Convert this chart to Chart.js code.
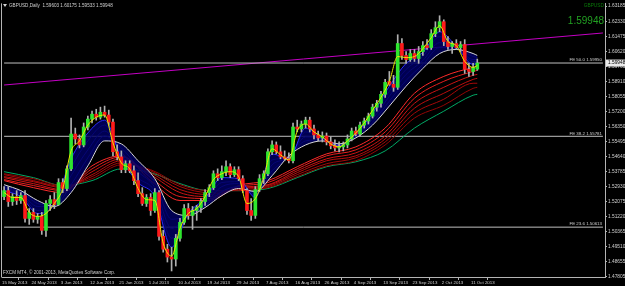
<!DOCTYPE html>
<html>
<head>
<meta charset="utf-8">
<title>GBPUSD Daily</title>
<script src="https://cdn.jsdelivr.net/npm/chart.js@4.4.1/dist/chart.umd.min.js"></script>
<style>
  html, body { margin: 0; padding: 0; background: #000; }
  canvas { display: block; }
</style>
</head>
<body>
<canvas id="chart" width="625" height="286"></canvas>
<script>
// daily candles, 15 May 2013 .. 14 Oct 2013 : [open, high, low, close]
const candles = [
  [1.5235, 1.5292, 1.5218, 1.5269], [1.5269, 1.5292, 1.5179, 1.5207], [1.5207, 1.5252, 1.5185, 1.5235],
  [1.5235, 1.5269, 1.5190, 1.5213], [1.5213, 1.5258, 1.5196, 1.5241], [1.5241, 1.5269, 1.5089, 1.5111],
  [1.5111, 1.5167, 1.5077, 1.5145], [1.5145, 1.5167, 1.5089, 1.5106], [1.5106, 1.5139, 1.5083, 1.5122],
  [1.5122, 1.5145, 1.5020, 1.5043], [1.5043, 1.5213, 1.5009, 1.5196], [1.5196, 1.5241, 1.5156, 1.5218],
  [1.5218, 1.5258, 1.5167, 1.5190], [1.5190, 1.5337, 1.5185, 1.5315], [1.5315, 1.5337, 1.5258, 1.5281],
  [1.5281, 1.5410, 1.5269, 1.5393], [1.5393, 1.5682, 1.5382, 1.5591], [1.5591, 1.5625, 1.5535, 1.5563],
  [1.5563, 1.5586, 1.5512, 1.5529], [1.5529, 1.5654, 1.5518, 1.5631], [1.5631, 1.5693, 1.5614, 1.5676],
  [1.5676, 1.5721, 1.5654, 1.5704], [1.5704, 1.5732, 1.5670, 1.5687], [1.5687, 1.5744, 1.5676, 1.5715],
  [1.5715, 1.5750, 1.5687, 1.5699], [1.5699, 1.5727, 1.5642, 1.5659], [1.5659, 1.5676, 1.5467, 1.5490],
  [1.5490, 1.5529, 1.5444, 1.5461], [1.5461, 1.5495, 1.5371, 1.5388], [1.5388, 1.5439, 1.5371, 1.5422],
  [1.5422, 1.5439, 1.5371, 1.5382], [1.5382, 1.5410, 1.5303, 1.5326], [1.5326, 1.5371, 1.5235, 1.5252],
  [1.5252, 1.5286, 1.5185, 1.5196], [1.5196, 1.5247, 1.5179, 1.5230], [1.5230, 1.5252, 1.5128, 1.5156],
  [1.5156, 1.5281, 1.5145, 1.5258], [1.5258, 1.5269, 1.4987, 1.5009], [1.5009, 1.5043, 1.4919, 1.4936],
  [1.4936, 1.4964, 1.4863, 1.4891], [1.4891, 1.4947, 1.4812, 1.4880], [1.4880, 1.5020, 1.4840, 1.4998],
  [1.4998, 1.5111, 1.4981, 1.5089], [1.5089, 1.5190, 1.5077, 1.5167], [1.5167, 1.5196, 1.5106, 1.5128],
  [1.5128, 1.5179, 1.5049, 1.5156], [1.5156, 1.5185, 1.5100, 1.5173], [1.5173, 1.5224, 1.5145, 1.5207],
  [1.5207, 1.5275, 1.5185, 1.5258], [1.5258, 1.5303, 1.5235, 1.5286], [1.5286, 1.5382, 1.5275, 1.5365],
  [1.5365, 1.5393, 1.5326, 1.5343], [1.5343, 1.5410, 1.5332, 1.5377], [1.5377, 1.5439, 1.5354, 1.5405],
  [1.5405, 1.5422, 1.5343, 1.5360], [1.5360, 1.5405, 1.5349, 1.5388], [1.5388, 1.5405, 1.5326, 1.5337],
  [1.5337, 1.5354, 1.5258, 1.5269], [1.5269, 1.5281, 1.5134, 1.5156], [1.5156, 1.5224, 1.5100, 1.5128],
  [1.5128, 1.5292, 1.5111, 1.5275], [1.5275, 1.5360, 1.5264, 1.5337], [1.5337, 1.5382, 1.5309, 1.5365],
  [1.5365, 1.5507, 1.5354, 1.5490], [1.5490, 1.5552, 1.5473, 1.5529], [1.5529, 1.5546, 1.5478, 1.5490],
  [1.5490, 1.5524, 1.5450, 1.5461], [1.5461, 1.5495, 1.5439, 1.5450], [1.5450, 1.5484, 1.5427, 1.5439],
  [1.5439, 1.5654, 1.5427, 1.5631], [1.5631, 1.5670, 1.5603, 1.5620], [1.5620, 1.5665, 1.5603, 1.5648],
  [1.5648, 1.5687, 1.5625, 1.5670], [1.5670, 1.5687, 1.5603, 1.5620], [1.5620, 1.5642, 1.5563, 1.5586],
  [1.5586, 1.5608, 1.5552, 1.5569], [1.5569, 1.5603, 1.5546, 1.5580], [1.5580, 1.5597, 1.5529, 1.5546],
  [1.5546, 1.5575, 1.5507, 1.5524], [1.5524, 1.5558, 1.5495, 1.5512], [1.5512, 1.5546, 1.5490, 1.5518],
  [1.5518, 1.5546, 1.5495, 1.5529], [1.5529, 1.5586, 1.5512, 1.5563], [1.5563, 1.5625, 1.5552, 1.5608],
  [1.5608, 1.5631, 1.5580, 1.5591], [1.5591, 1.5659, 1.5580, 1.5642], [1.5642, 1.5682, 1.5625, 1.5665],
  [1.5665, 1.5710, 1.5648, 1.5693], [1.5693, 1.5761, 1.5682, 1.5744], [1.5744, 1.5783, 1.5721, 1.5766],
  [1.5766, 1.5834, 1.5744, 1.5817], [1.5817, 1.5902, 1.5800, 1.5885], [1.5891, 1.5947, 1.5868, 1.5874],
  [1.5874, 1.5925, 1.5834, 1.5857], [1.5857, 1.6156, 1.5845, 1.6106], [1.6106, 1.6134, 1.6015, 1.6038],
  [1.6038, 1.6060, 1.5993, 1.6015], [1.6015, 1.6072, 1.6004, 1.6049], [1.6049, 1.6072, 1.6004, 1.6021],
  [1.6021, 1.6089, 1.5993, 1.6060], [1.6060, 1.6117, 1.6038, 1.6094], [1.6094, 1.6128, 1.6072, 1.6083],
  [1.6083, 1.6185, 1.6072, 1.6162], [1.6162, 1.6230, 1.6145, 1.6196], [1.6196, 1.6264, 1.6173, 1.6230],
  [1.6230, 1.6241, 1.6094, 1.6117], [1.6117, 1.6145, 1.6072, 1.6089], [1.6089, 1.6117, 1.6049, 1.6106],
  [1.6106, 1.6128, 1.6072, 1.6083], [1.6083, 1.6117, 1.6060, 1.6100], [1.6100, 1.6128, 1.5936, 1.5959],
  [1.5959, 1.5993, 1.5919, 1.5947], [1.5947, 1.5993, 1.5925, 1.5970], [1.59603, 1.60175, 1.59533, 1.59948]
];

// one date label every 7 bars
const dateTicks = ['15 May 2013', '24 May 2013', '3 Jun 2013', '12 Jun 2013', '21 Jun 2013', '1 Jul 2013',
  '10 Jul 2013', '19 Jul 2013', '29 Jul 2013', '7 Aug 2013', '16 Aug 2013', '26 Aug 2013', '4 Sep 2013',
  '13 Sep 2013', '23 Sep 2013', '2 Oct 2013', '11 Oct 2013'];

const priceTicks = [1.63185, 1.62330, 1.61475, 1.60620, 1.59765, 1.58910, 1.58055, 1.57200, 1.56350, 1.55495,
  1.54640, 1.53785, 1.52930, 1.52075, 1.51220, 1.50365, 1.49510, 1.48655, 1.47805];

// fast average, read every 2nd bar (+ last bar)
const yellowLine = [1.5258, 1.5230, 1.5230, 1.5145, 1.5122, 1.5139, 1.5196, 1.5281, 1.5495, 1.5552, 1.5642,
  1.5687, 1.5699, 1.5541, 1.5427, 1.5393, 1.5281, 1.5218, 1.5213, 1.4970, 1.4897, 1.5054, 1.5139, 1.5167,
  1.5235, 1.5332, 1.5365, 1.5377, 1.5349, 1.5196, 1.5224, 1.5343, 1.5507, 1.5473, 1.5444, 1.5608, 1.5648,
  1.5603, 1.5575, 1.5535, 1.5518, 1.5552, 1.5597, 1.5654, 1.5727, 1.5800, 1.5891, 1.6032, 1.6026, 1.6032,
  1.6077, 1.6139, 1.6207, 1.6117, 1.6094, 1.6004, 1.5970, 1.5981];

// short group, read every 4th bar (+ last bar)
const blueLines = [
  [1.5269, 1.5235, 1.5139, 1.5190, 1.5450, 1.5597, 1.5670, 1.5450, 1.5315, 1.5235, 1.4947, 1.5139, 1.5224, 1.5343, 1.5337,
   1.5230, 1.5478, 1.5450, 1.5625, 1.5569, 1.5524, 1.5591, 1.5710, 1.5863, 1.5993, 1.6055, 1.6173, 1.6089, 1.5987, 1.5993],
  [1.5275, 1.5247, 1.5156, 1.5190, 1.5399, 1.5552, 1.5642, 1.5473, 1.5343, 1.5264, 1.4998, 1.5134, 1.5213, 1.5315, 1.5320,
   1.5241, 1.5444, 1.5456, 1.5603, 1.5563, 1.5524, 1.5586, 1.5693, 1.5834, 1.5959, 1.6032, 1.6145, 1.6083, 1.6004, 1.6004],
  [1.5286, 1.5252, 1.5179, 1.5185, 1.5354, 1.5501, 1.5608, 1.5490, 1.5377, 1.5286, 1.5054, 1.5134, 1.5196, 1.5292, 1.5309,
   1.5247, 1.5416, 1.5456, 1.5575, 1.5563, 1.5529, 1.5580, 1.5676, 1.5806, 1.5930, 1.6009, 1.6111, 1.6083, 1.6015, 1.6015],
  [1.5292, 1.5264, 1.5196, 1.5185, 1.5303, 1.5456, 1.5580, 1.5512, 1.5405, 1.5315, 1.5106, 1.5128, 1.5185, 1.5264, 1.5292,
   1.5258, 1.5382, 1.5461, 1.5552, 1.5558, 1.5529, 1.5575, 1.5659, 1.5778, 1.5896, 1.5987, 1.6083, 1.6077, 1.6032, 1.6026]
];
const whiteLine = [1.5303, 1.5269, 1.5213, 1.5179, 1.5258, 1.5410, 1.5552, 1.5535, 1.5439, 1.5337, 1.5156, 1.5128,
  1.5173, 1.5241, 1.5281, 1.5264, 1.5354, 1.5467, 1.5529, 1.5552, 1.5535, 1.5569, 1.5642, 1.5750, 1.5863, 1.5964,
  1.6049, 1.6072, 1.6049, 1.6038];

// long group, read every 7th bar (+ last bar)
const redLines = [
  [1.5326, 1.5286, 1.5258, 1.5410, 1.5467, 1.5326, 1.5213, 1.5213, 1.5298, 1.5326, 1.5405, 1.5478, 1.5518, 1.5625, 1.5823, 1.5919, 1.5970, 1.5976],
  [1.5332, 1.5298, 1.5269, 1.5393, 1.5461, 1.5343, 1.5235, 1.5224, 1.5292, 1.5315, 1.5393, 1.5467, 1.5501, 1.5603, 1.5795, 1.5891, 1.5947, 1.5953],
  [1.5343, 1.5309, 1.5275, 1.5377, 1.5450, 1.5360, 1.5258, 1.5235, 1.5286, 1.5303, 1.5382, 1.5450, 1.5484, 1.5580, 1.5766, 1.5857, 1.5925, 1.5930],
  [1.5349, 1.5320, 1.5286, 1.5360, 1.5439, 1.5371, 1.5275, 1.5247, 1.5281, 1.5298, 1.5371, 1.5439, 1.5467, 1.5563, 1.5738, 1.5823, 1.5902, 1.5908],
  [1.5360, 1.5326, 1.5292, 1.5349, 1.5427, 1.5382, 1.5292, 1.5258, 1.5275, 1.5292, 1.5360, 1.5422, 1.5456, 1.5546, 1.5710, 1.5789, 1.5880, 1.5880],
  [1.5365, 1.5337, 1.5298, 1.5337, 1.5416, 1.5388, 1.5303, 1.5269, 1.5269, 1.5286, 1.5349, 1.5410, 1.5439, 1.5529, 1.5682, 1.5755, 1.5851, 1.5857]
];
const greenLine = [1.5377, 1.5343, 1.5298, 1.5326, 1.5393, 1.5371, 1.5309, 1.5269, 1.5269, 1.5281, 1.5343, 1.5405,
  1.5433, 1.5495, 1.5625, 1.5721, 1.5812, 1.5817];

const fibNames = ['FE 50.0', 'FE 38.2', 'FE 23.6'];
const fibValues = [1.59950, 1.55781, 1.50613];
const trendLine = [1.5870, 1.6166];   // first and last slot of the chart

const BULL = '#2ee62e', BEAR = '#ff1a1a', FRAME = '#b4b4b4', TEXT = '#d0d0d0';
const FONT = '"Liberation Sans", Arial, sans-serif';

const BARS = candles.length;
const N = BARS + 30;   // empty shift on the right
const labels = Array.from({length: N}, (_, i) => (i % 7 === 0 && dateTicks[i / 7]) ? dateTicks[i / 7] : '');
const tickIdx = dateTicks.map((_, k) => k * 7);

function stepIdx(step) {
  const a = [];
  for (let i = 0; i < BARS; i += step) a.push(i);
  if (a[a.length - 1] !== BARS - 1) a.push(BARS - 1);
  return a;
}
function place(idx, vals) {
  const a = new Array(N).fill(null);
  idx.forEach((k, j) => { a[k] = vals[j]; });
  return a;
}
const idx2 = stepIdx(2), idx4 = stepIdx(4), idx7 = stepIdx(7);

function line(data, color, order, extra) {
  return Object.assign({
    type: 'line', data, borderColor: color, borderWidth: 1, pointRadius: 0,
    spanGaps: true, cubicInterpolationMode: 'monotone', fill: false, order
  }, extra || {});
}

const datasets = [];
// level lines and trend line
fibValues.forEach(v => datasets.push(line(place([0, N - 1], [v, v]), '#c0c0c0', 9, {cubicInterpolationMode: 'default'})));
datasets.push(line(place([0, N - 1], trendLine), '#c400c4', 9, {cubicInterpolationMode: 'default'}));
// long group
const redColors = ['#ff2a2a', '#e61e1e', '#cc1414', '#b80e0e', '#a50808', '#930505'];
redLines.forEach((r, k) => datasets.push(line(place(idx7, r), redColors[k], 7)));
datasets.push(line(place(idx7, greenLine), '#00aa66', 7));
// short group with dark fill
const whiteIndex = datasets.length;
datasets.push(line(place(idx4, whiteLine), '#d8d8d8', 5));
datasets.push(line(place(idx4, blueLines[0]), '#2a2aff', 6, {fill: {target: whiteIndex, above: 'rgba(0,0,96,0.85)', below: 'rgba(0,0,96,0.85)'}}));
blueLines.slice(1).forEach(b => datasets.push(line(place(idx4, b), '#2626e8', 6)));
// candles
datasets.push({
  type: 'bar', data: candles.map(c => [c[2], c[1]]), backgroundColor: '#b0b0b0',
  barThickness: 1, grouped: false, order: 3
});
datasets.push({
  type: 'bar', data: candles.map(c => [c[0], c[3]]),
  backgroundColor: candles.map(c => c[3] >= c[0] ? BULL : BEAR),
  barThickness: 3, grouped: false, minBarLength: 1, order: 2
});
datasets.push(line(place(idx2, yellowLine), '#e8e800', 1));

const decor = {
  id: 'decor',
  afterDraw(chart) {
    const {ctx, chartArea: a, scales: {y}} = chart;
    const last = candles[BARS - 1];
    ctx.save();
    ctx.strokeStyle = FRAME;
    ctx.lineWidth = 1;
    ctx.beginPath();
    ctx.moveTo(a.left - 0.5, a.top - 0.5);
    ctx.lineTo(a.left - 0.5, a.bottom + 0.5);
    ctx.stroke();

    ctx.textBaseline = 'middle';
    ctx.fillStyle = TEXT;
    ctx.beginPath();
    ctx.moveTo(3, 4); ctx.lineTo(7, 4); ctx.lineTo(5, 7); ctx.closePath(); ctx.fill();
    ctx.font = '4.6px ' + FONT;
    ctx.textAlign = 'left';
    ctx.fillText('GBPUSD,Daily  ' + last.map(v => v.toFixed(5)).join(' '), 9, 5.5);
    ctx.fillText('FXCM MT4, \u00a9 2001-2013, MetaQuotes Software Corp.', 3, 272.5);

    ctx.textAlign = 'right';
    ctx.fillStyle = '#0a7a0a';
    ctx.font = '4.8px ' + FONT;
    ctx.fillText('GBPUSD', a.right - 1, 5.5);
    ctx.fillStyle = '#22a022';
    ctx.font = '10px ' + FONT;
    ctx.fillText(last[3].toFixed(5), a.right - 1, 21);

    ctx.fillStyle = TEXT;
    ctx.font = '4.4px ' + FONT;
    fibNames.forEach((n, k) => {
      const py = y.getPixelForValue(fibValues[k]);
      ctx.fillText(n + ' ' + fibValues[k].toFixed(5), a.right - 3, py - 3);
    });

    const py = y.getPixelForValue(last[3]);
    ctx.fillStyle = '#e8e8e8';
    ctx.fillRect(a.right + 1, py - 3.5, 20, 7);
    ctx.fillStyle = '#000';
    ctx.textAlign = 'left';
    ctx.font = '4.8px ' + FONT;
    ctx.fillText(last[3].toFixed(5), a.right + 3, py);
    ctx.restore();
  }
};

new Chart(document.getElementById('chart'), {
  type: 'bar',
  data: { labels, datasets },
  plugins: [decor],
  options: {
    responsive: false,
    animation: false,
    events: [],
    layout: { padding: { left: 2, top: 2, right: 0, bottom: 0 } },
    plugins: { legend: { display: false }, tooltip: { enabled: false } },
    scales: {
      x: {
        type: 'category',
        offset: true,
        afterBuildTicks: s => { s.ticks = tickIdx.map(v => ({ value: v })); },
        afterFit: s => { s.height = 9; },
        grid: { drawOnChartArea: false, color: FRAME, tickLength: 3 },
        border: { color: FRAME },
        ticks: {
          color: TEXT, font: { size: 4.4, family: FONT }, align: 'start',
          maxRotation: 0, autoSkip: false, padding: 0, labelOffset: -2
        }
      },
      y: {
        position: 'right',
        min: 1.47777,
        max: 1.63315,
        afterBuildTicks: s => { s.ticks = priceTicks.map(v => ({ value: v })); },
        afterFit: s => { s.width = 20; },
        grid: { drawOnChartArea: false, color: FRAME, tickLength: 2 },
        border: { color: FRAME },
        ticks: {
          color: TEXT, font: { size: 4.8, family: FONT }, padding: 1, autoSkip: false,
          callback: v => v.toFixed(5)
        }
      }
    }
  }
});
</script>
</body>
</html>
